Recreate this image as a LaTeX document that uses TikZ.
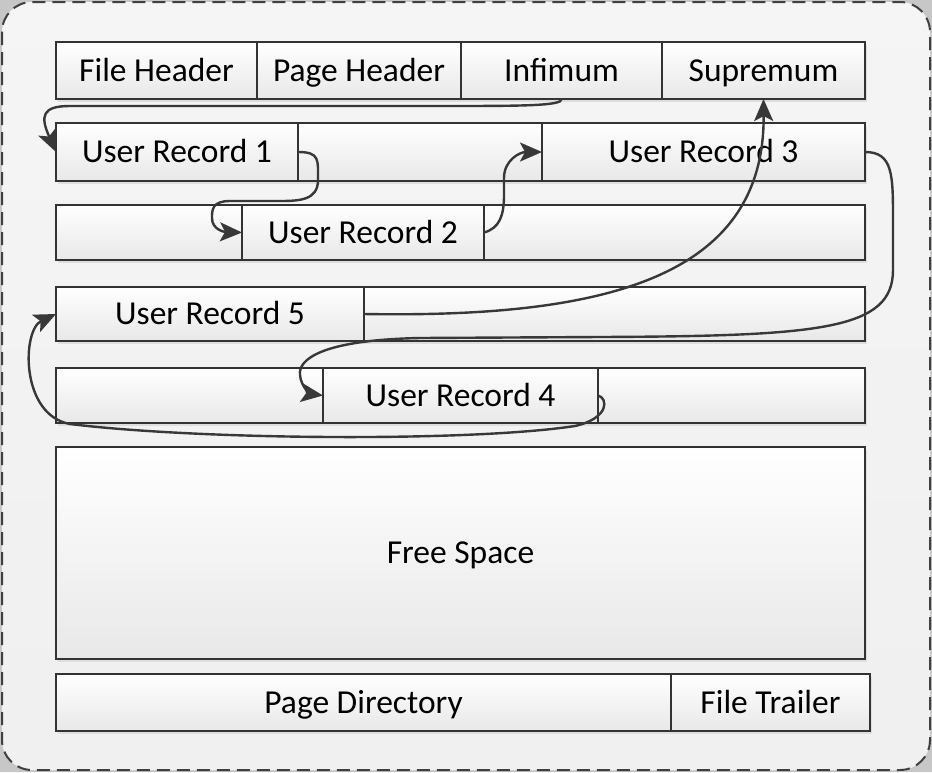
\documentclass[tikz,border=0pt]{standalone}
\usepackage{fontspec}
\setmainfont{Carlito}
\usetikzlibrary{positioning,arrows.meta,shadows}
\begin{document}
\begin{tikzpicture}[x=1pt,y=-1pt]
	\tikzstyle{Block} = [draw=black!80, line width=1.6pt, top color=white, bottom color=black!9, inner sep=0pt, outer sep=0pt, font=\fontsize{33.5}{40}\selectfont, text height=21.5pt, text depth=0pt, general shadow={fill=black!13, shadow xshift=2pt, shadow yshift=-3pt}]
	\tikzstyle{Link} = [draw=black!78, line width=2.4pt, -{Stealth[length=22pt,width=19pt,inset=5pt]}]
	\useasboundingbox (0,0) rectangle (932,772);
	\fill[black!22] (0,0) rectangle (932,772);
	\draw[black!75, line width=2pt, dash pattern=on 13pt off 7pt, rounded corners=30pt, top color=black!4, bottom color=black!6] (2,2) rectangle (930,770);
	% row 1
	\node (fh) at (156.5,70.5) [Block, minimum width=201, minimum height=57] {File Header};
	\node (ph) [Block, minimum width=204, minimum height=57, right=0pt of fh] {Page Header};
	\node (inf) [Block, minimum width=201, minimum height=57, right=0pt of ph] {Infimum};
	\node (sup) [Block, minimum width=203, minimum height=57, right=0pt of inf] {Supremum};
	% row 2
	\node (ur1) at (177,152) [Block, minimum width=242, minimum height=58] {User Record 1};
	\node (gap1) [Block, minimum width=244, minimum height=58, right=0pt of ur1] {};
	\node (ur3) [Block, minimum width=323, minimum height=58, right=0pt of gap1] {User Record 3};
	% row 3
	\node (gap2) at (149,232.5) [Block, minimum width=186, minimum height=55] {};
	\node (ur2) [Block, minimum width=242, minimum height=55, right=0pt of gap2] {User Record 2};
	\node (gap3) [Block, minimum width=381, minimum height=55, right=0pt of ur2] {};
	% row 4
	\node (ur5) at (210,314) [Block, minimum width=308, minimum height=54] {User Record 5};
	\node (gap4) [Block, minimum width=501, minimum height=54, right=0pt of ur5] {};
	% row 5
	\node (gap5) at (189.5,395.5) [Block, minimum width=267, minimum height=55] {};
	\node (ur4) [Block, minimum width=275, minimum height=55, right=0pt of gap5] {User Record 4};
	\node (gap6) [Block, minimum width=267, minimum height=55, right=0pt of ur4] {};
	% free space and tail
	\node (free) at (460.5,553) [Block, minimum width=809, minimum height=212] {Free Space};
	\node (pd) at (363.5,702.5) [Block, minimum width=615, minimum height=57] {Page Directory};
	\node (ft) [Block, minimum width=199, minimum height=57, right=0pt of pd] {File Trailer};
	% record list
	\draw[Link] (inf.south) .. controls (563,106) and (520,106) .. (440,106) -- (70,106) .. controls (42,106) and (40,116) .. (ur1.west);
	\draw[Link] (ur1.east) .. controls (320,152) and (318,160) .. (318,180) .. controls (318,200) and (300,201) .. (280,201) -- (230,201) .. controls (212,201) and (212,210) .. (212,218) .. controls (212,230) and (225,232) .. (ur2.west);
	\draw[Link] (ur2.east) .. controls (500,228) and (504,215) .. (504,195) -- (504,178) .. controls (504,160) and (520,152) .. (ur3.west);
	\draw[Link] (ur3.east) .. controls (893,152) and (893,175) .. (893,220) -- (893,270) .. controls (893,330) and (820,336) .. (600,337) -- (420,338) .. controls (320,340) and (298,360) .. (300,375) .. controls (301,388) and (312,394) .. (ur4.west);
	\draw[Link] (ur4.east) .. controls (608,398) and (610,418) .. (575,426) .. controls (470,442) and (200,440) .. (70,424) .. controls (20,415) and (22,330) .. (ur5.west);
	\draw[Link] (ur5.east) .. controls (600,318) and (765,280) .. (sup.south);
\end{tikzpicture}
\end{document}
